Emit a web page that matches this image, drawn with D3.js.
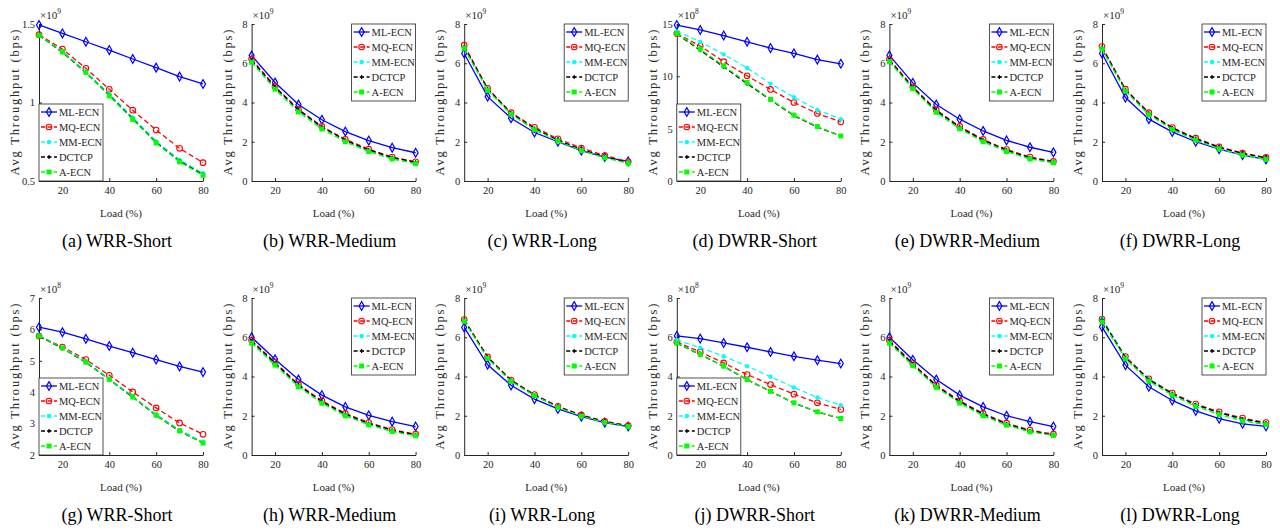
<!DOCTYPE html>
<html>
<head>
<meta charset="utf-8">
<script src="https://cdn.jsdelivr.net/npm/d3@7"></script>
<style>
  body { margin: 0; background: #fff; }
  svg text { font-family: "Liberation Serif", "DejaVu Serif", serif; fill: #262626; }
</style>
</head>
<body>
<div id="chart"></div>
<script>
// x values shared by every panel
const loads = [10, 20, 30, 40, 50, 60, 70, 80];
const xTicks = [20, 40, 60, 80];
const seriesNames = ["ML-ECN", "MQ-ECN", "MM-ECN", "DCTCP", "A-ECN"];

const captions = ["(a) WRR-Short", "(b) WRR-Medium", "(c) WRR-Long",
                  "(d) DWRR-Short", "(e) DWRR-Medium", "(f) DWRR-Long",
                  "(g) WRR-Short", "(h) WRR-Medium", "(i) WRR-Long",
                  "(j) DWRR-Short", "(k) DWRR-Medium", "(l) DWRR-Long"];
const exponents = [9, 9, 9, 8, 9, 9, 8, 9, 9, 8, 9, 9];
const yTickSets = [
  [0.5, 1, 1.5], [0, 2, 4, 6, 8], [0, 2, 4, 6, 8],
  [0, 5, 10, 15], [0, 2, 4, 6, 8], [0, 2, 4, 6, 8],
  [2, 3, 4, 5, 6, 7], [0, 2, 4, 6, 8], [0, 2, 4, 6, 8],
  [0, 2, 4, 6, 8], [0, 2, 4, 6, 8], [0, 2, 4, 6, 8]
];
const legendCorners = ["sw", "ne", "ne", "sw", "ne", "ne", "sw", "ne", "ne", "sw", "ne", "ne"];

// series rows: ML-ECN, MQ-ECN, MM-ECN, DCTCP, A-ECN
const wrrShortA = [
  [1.494, 1.440, 1.387, 1.334, 1.277, 1.222, 1.165, 1.118],
  [1.432, 1.340, 1.218, 1.084, 0.951, 0.825, 0.708, 0.617],
  [1.430, 1.326, 1.198, 1.054, 0.905, 0.752, 0.636, 0.549],
  [1.428, 1.320, 1.190, 1.046, 0.896, 0.745, 0.626, 0.541],
  [1.428, 1.322, 1.192, 1.042, 0.892, 0.742, 0.622, 0.536]
];
const wrrMediumA = [
  [6.39, 5.02, 3.90, 3.12, 2.52, 2.06, 1.70, 1.44],
  [6.22, 4.82, 3.65, 2.78, 2.12, 1.62, 1.22, 0.98],
  [6.08, 4.72, 3.55, 2.68, 2.02, 1.52, 1.14, 0.90],
  [6.15, 4.78, 3.62, 2.75, 2.08, 1.58, 1.20, 0.95],
  [6.05, 4.68, 3.52, 2.65, 2.00, 1.50, 1.12, 0.88]
];
const wrrLongA = [
  [6.50, 4.30, 3.20, 2.47, 2.00, 1.55, 1.22, 1.00],
  [6.92, 4.72, 3.48, 2.74, 2.15, 1.68, 1.30, 0.98],
  [6.82, 4.66, 3.42, 2.66, 2.06, 1.58, 1.22, 0.93],
  [6.85, 4.70, 3.45, 2.68, 2.08, 1.60, 1.24, 0.94],
  [6.76, 4.62, 3.40, 2.62, 2.03, 1.55, 1.18, 0.90]
];
const dwrrShortA = [
  [14.9, 14.43, 13.9, 13.3, 12.7, 12.2, 11.6, 11.2],
  [14.1, 12.9, 11.4, 10.05, 8.75, 7.5, 6.45, 5.65],
  [14.3, 13.3, 12.1, 10.8, 9.3, 8.0, 6.8, 5.9],
  [14.05, 12.5, 10.9, 9.3, 7.75, 6.25, 5.15, 4.3],
  [14.1, 12.6, 11.0, 9.4, 7.8, 6.3, 5.2, 4.3]
];
const dwrrMediumA = [
  [6.40, 5.00, 3.90, 3.15, 2.55, 2.07, 1.72, 1.46],
  [6.20, 4.80, 3.62, 2.78, 2.12, 1.60, 1.22, 1.00],
  [6.10, 4.72, 3.52, 2.68, 2.02, 1.52, 1.14, 0.94],
  [6.15, 4.76, 3.58, 2.74, 2.08, 1.57, 1.19, 0.98],
  [6.08, 4.70, 3.50, 2.66, 2.00, 1.50, 1.12, 0.93]
];
const dwrrLongA = [
  [6.50, 4.25, 3.15, 2.50, 2.00, 1.62, 1.32, 1.10],
  [6.85, 4.68, 3.48, 2.72, 2.18, 1.74, 1.42, 1.20],
  [6.75, 4.60, 3.40, 2.64, 2.10, 1.66, 1.34, 1.12],
  [6.80, 4.65, 3.45, 2.70, 2.15, 1.72, 1.40, 1.18],
  [6.72, 4.58, 3.38, 2.62, 2.08, 1.64, 1.32, 1.10]
];
const wrrShortB = [
  [6.07, 5.91, 5.70, 5.47, 5.26, 5.04, 4.82, 4.64],
  [5.79, 5.44, 5.04, 4.54, 4.01, 3.50, 3.02, 2.66],
  [5.79, 5.42, 4.98, 4.43, 3.87, 3.29, 2.80, 2.42],
  [5.78, 5.40, 4.95, 4.40, 3.84, 3.26, 2.76, 2.38],
  [5.79, 5.41, 4.96, 4.41, 3.85, 3.27, 2.77, 2.38]
];
const wrrMediumB = [
  [6.00, 4.88, 3.85, 3.05, 2.45, 2.02, 1.70, 1.45],
  [5.85, 4.72, 3.60, 2.76, 2.12, 1.65, 1.30, 1.06],
  [5.75, 4.62, 3.52, 2.68, 2.04, 1.57, 1.22, 1.00],
  [5.80, 4.68, 3.56, 2.72, 2.08, 1.61, 1.26, 1.03],
  [5.70, 4.58, 3.48, 2.64, 2.00, 1.54, 1.19, 0.98]
];
const wrrLongB = [
  [6.50, 4.60, 3.55, 2.85, 2.35, 1.95, 1.65, 1.45],
  [6.90, 5.00, 3.82, 3.08, 2.48, 2.04, 1.72, 1.50],
  [6.85, 4.95, 3.78, 3.04, 2.44, 2.00, 1.68, 1.47],
  [6.88, 4.98, 3.80, 3.06, 2.46, 2.02, 1.70, 1.48],
  [6.82, 4.92, 3.75, 3.02, 2.42, 1.98, 1.66, 1.45]
];
const dwrrShortB = [
  [6.07, 5.93, 5.71, 5.49, 5.25, 5.03, 4.83, 4.66],
  [5.76, 5.25, 4.69, 4.10, 3.59, 3.10, 2.66, 2.32],
  [5.85, 5.47, 5.03, 4.53, 3.99, 3.44, 2.93, 2.54],
  [5.70, 5.12, 4.52, 3.84, 3.24, 2.65, 2.19, 1.86],
  [5.71, 5.13, 4.53, 3.85, 3.25, 2.66, 2.20, 1.86]
];
const dwrrMediumB = [
  [6.00, 4.85, 3.85, 3.05, 2.45, 2.00, 1.70, 1.45],
  [5.85, 4.66, 3.56, 2.76, 2.12, 1.62, 1.27, 1.06],
  [5.75, 4.58, 3.48, 2.68, 2.04, 1.55, 1.20, 1.01],
  [5.80, 4.62, 3.52, 2.72, 2.08, 1.58, 1.23, 1.03],
  [5.70, 4.55, 3.45, 2.65, 2.00, 1.52, 1.18, 1.00]
];
const dwrrLongB = [
  [6.53, 4.58, 3.48, 2.78, 2.25, 1.85, 1.59, 1.46],
  [6.92, 5.02, 3.88, 3.16, 2.60, 2.20, 1.88, 1.65],
  [6.95, 4.98, 3.86, 3.12, 2.55, 2.14, 1.80, 1.58],
  [6.90, 4.96, 3.84, 3.12, 2.56, 2.16, 1.84, 1.62],
  [6.78, 4.90, 3.76, 3.05, 2.48, 2.06, 1.74, 1.55]
];

const panels = [wrrShortA, wrrMediumA, wrrLongA, dwrrShortA, dwrrMediumA, dwrrLongA,
                wrrShortB, wrrMediumB, wrrLongB, dwrrShortB, dwrrMediumB, dwrrLongB];

// styling per series
const colors = ["#0000ff", "#ff0000", "#00ffff", "#000000", "#00ff00"];
const dashes = [null, "5,3", "5,3", "5,3", "5,3"];
const serif = "'Liberation Serif', 'DejaVu Serif', serif";

const W = 1280, H = 531;
const plotW = 164, plotH = 157;
const colX = i => 39 + i * 212.6;
const rowY = [24, 298];

const svg = d3.select("#chart").append("svg")
  .attr("width", W).attr("height", H)
  .attr("font-family", serif);

function drawMarker(g, k, x, y) {
  const c = colors[k];
  if (k === 0) {
    g.append("path").attr("d", d3.symbol(d3.symbolDiamond, 22)())
      .attr("transform", `translate(${x},${y})`)
      .attr("fill", "none").attr("stroke", c).attr("stroke-width", 1.2);
  } else if (k === 1) {
    g.append("circle").attr("cx", x).attr("cy", y).attr("r", 2.8)
      .attr("fill", "none").attr("stroke", c).attr("stroke-width", 1.1);
  } else if (k === 2) {
    g.append("circle").attr("cx", x).attr("cy", y).attr("r", 2.2).attr("fill", c);
  } else if (k === 3) {
    g.append("path").attr("d", `M${x - 2},${y}H${x + 2}M${x},${y - 2}V${y + 2}`)
      .attr("stroke", c).attr("stroke-width", 1.2);
  } else {
    g.append("rect").attr("x", x - 2.5).attr("y", y - 2.5)
      .attr("width", 5).attr("height", 5).attr("fill", c);
  }
}

panels.forEach((rows, p) => {
  const col = p % 6, row = Math.floor(p / 6);
  const left = colX(col), top = rowY[row];
  const ticks = yTickSets[p];

  const x = d3.scaleLinear().domain([10, 80]).range([left, left + plotW]);
  const y = d3.scaleLinear().domain([ticks[0], ticks[ticks.length - 1]])
    .range([top + plotH, top]);

  const g = svg.append("g");

  // axes, ticks inside like MATLAB
  const xAxis = g.append("g")
    .attr("transform", `translate(0,${top + plotH})`)
    .call(d3.axisBottom(x).tickValues(xTicks).tickSizeInner(-3).tickSizeOuter(0).tickPadding(6));
  const yAxis = g.append("g")
    .attr("transform", `translate(${left},0)`)
    .call(d3.axisLeft(y).tickValues(ticks).tickFormat(d3.format("~g"))
      .tickSizeInner(-3).tickSizeOuter(0).tickPadding(4));
  [xAxis, yAxis].forEach(a => {
    a.attr("font-family", serif);
    a.select(".domain").attr("stroke", "#262626");
    a.selectAll(".tick line").attr("stroke", "#262626");
    a.selectAll(".tick text").attr("font-size", 10.5).attr("fill", "#262626");
  });

  // exponent label
  const ex = g.append("text").attr("x", left + 1).attr("y", top - 5).attr("font-size", 11);
  ex.append("tspan").text("×10");
  ex.append("tspan").attr("font-size", 7.5).attr("dy", -5).text(exponents[p]);

  // y label
  g.append("text")
    .attr("transform", `translate(${left - 20},${top + plotH / 2}) rotate(-90)`)
    .attr("text-anchor", "middle")
    .attr("font-size", 12.5)
    .attr("textLength", 146).attr("lengthAdjust", "spacing")
    .text("Avg Throughput (bps)");

  // x label
  g.append("text").attr("x", left + plotW / 2).attr("y", top + plotH + 36)
    .attr("text-anchor", "middle").attr("font-size", 11).text("Load (%)");

  // caption
  g.append("text").attr("x", left + plotW / 2 - 4).attr("y", top + plotH + 66)
    .attr("text-anchor", "middle").attr("font-size", 18).style("fill", "#000")
    .text(captions[p]);

  // series
  const line = d3.line().x((d, i) => x(loads[i])).y(d => y(d));
  rows.forEach((vals, k) => {
    const sg = g.append("g");
    sg.append("path").datum(vals).attr("d", line)
      .attr("fill", "none").attr("stroke", colors[k]).attr("stroke-width", 1.3)
      .attr("stroke-dasharray", dashes[k]);
    vals.forEach((v, i) => drawMarker(sg, k, x(loads[i]), y(v)));
  });

  // legend
  const lw = 64, lh = 77;
  const lx = legendCorners[p] === "sw" ? left : left + plotW - lw;
  const ly = legendCorners[p] === "sw" ? top + plotH - lh : top;
  const lg = g.append("g").attr("transform", `translate(${lx},${ly})`);
  lg.append("rect").attr("width", lw).attr("height", lh)
    .attr("fill", "#fff").attr("stroke", "#262626").attr("stroke-width", 0.8);
  seriesNames.forEach((name, k) => {
    const yy = 8 + k * 15;
    lg.append("line").attr("x1", 2).attr("x2", 18).attr("y1", yy).attr("y2", yy)
      .attr("stroke", colors[k]).attr("stroke-width", 1.3)
      .attr("stroke-dasharray", k === 0 ? null : "4,2.5");
    drawMarker(lg, k, 10, yy);
    lg.append("text").attr("x", 20).attr("y", yy + 3.8)
      .attr("font-size", 10.5).text(name);
  });
});
</script>
</body>
</html>
